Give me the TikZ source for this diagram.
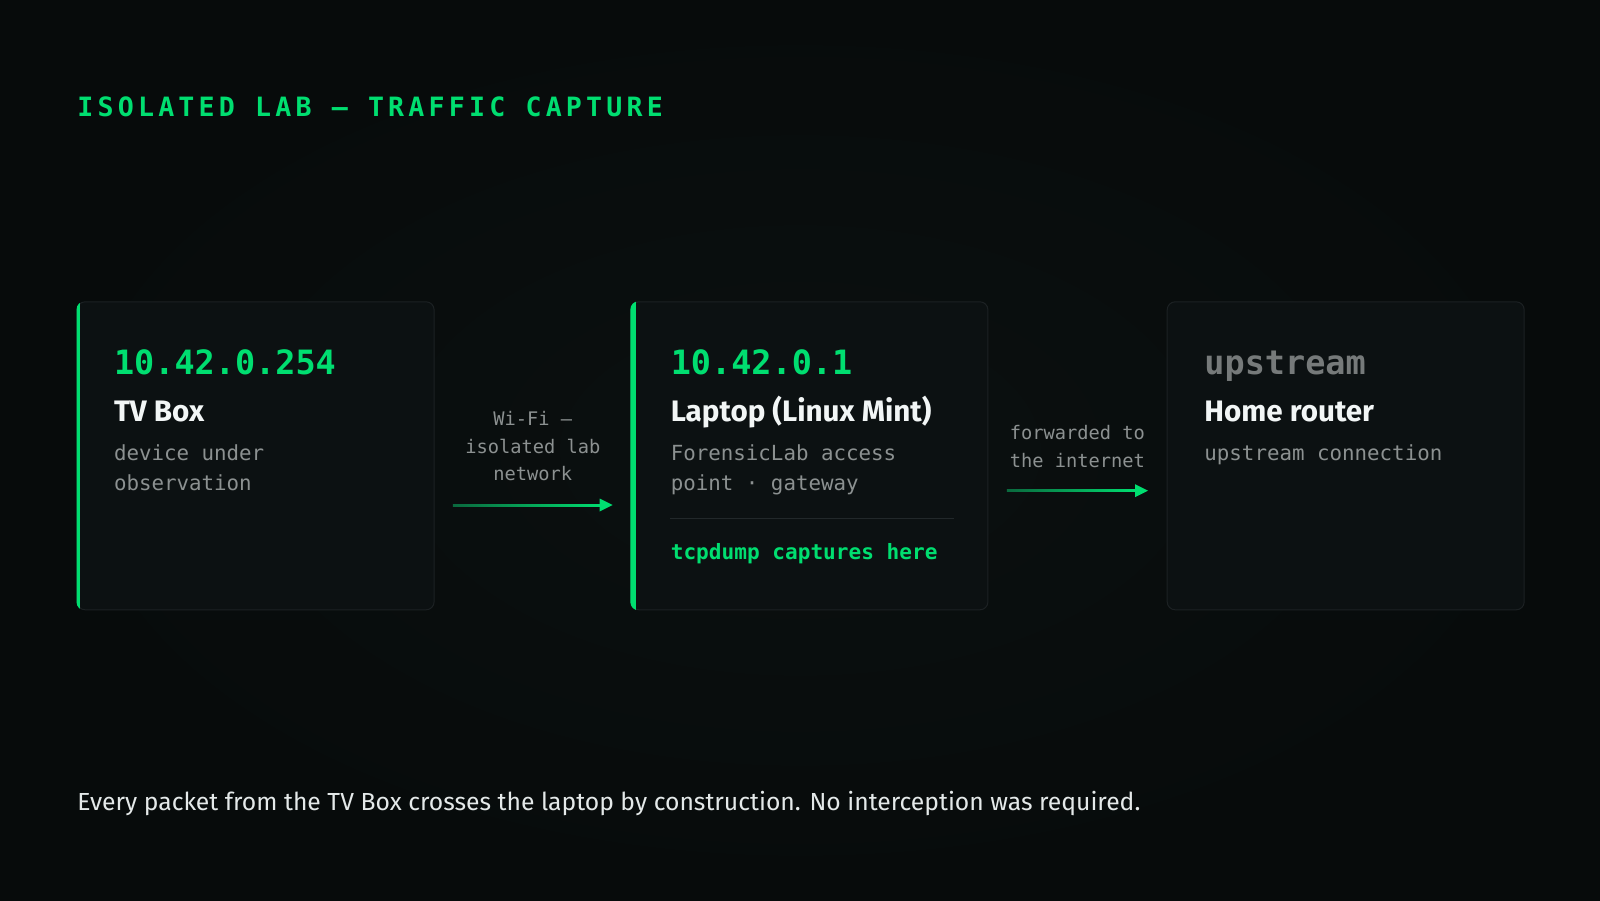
\documentclass[tikz,border=0pt]{standalone}
\usepackage{fontspec}
\setmainfont{Fira Sans}
\newfontfamily\monof{DejaVu Sans Mono}
\newfontfamily\titlef[LetterSpace=15.8]{DejaVu Sans Mono}
\usetikzlibrary{calc}
\definecolor{bgc}{RGB}{7,11,11}
\definecolor{bgl}{RGB}{11,16,16}
\definecolor{boxc}{RGB}{12,17,18}
\definecolor{bordc}{RGB}{28,33,35}
\definecolor{grn}{RGB}{0,222,112}
\definecolor{grnd}{RGB}{10,105,62}
\definecolor{txtg}{RGB}{140,145,145}
\definecolor{upg}{RGB}{118,122,122}
\definecolor{wht}{RGB}{242,246,246}
\definecolor{footc}{RGB}{228,233,233}
\definecolor{sepc}{RGB}{34,40,42}
\tikzset{
  card/.style={draw=bordc, line width=0.5pt, fill=boxc, rounded corners=4pt,
    minimum width=178.5pt, minimum height=154pt, inner sep=0pt, anchor=north west},
  txt/.style={inner sep=0pt, anchor=base west},
  iptxt/.style={txt, text=grn, font=\monof\bfseries\fontsize{16.75pt}{20pt}\selectfont},
  uptxt/.style={txt, text=upg, font=\monof\bfseries\fontsize{16.75pt}{20pt}\selectfont},
  headtxt/.style={txt, text=wht, font=\bfseries\fontsize{14.8pt}{18pt}\selectfont},
  desctxt/.style={txt, text=txtg, font=\monof\fontsize{10.4pt}{12pt}\selectfont},
  captxt/.style={txt, text=grn, font=\monof\bfseries\fontsize{10.55pt}{12pt}\selectfont},
  lbltxt/.style={inner sep=0pt, anchor=base, text=txtg, font=\monof\fontsize{9.35pt}{11pt}\selectfont},
}
\begin{document}
\begin{tikzpicture}[x=0.5pt,y=-0.5pt]
\useasboundingbox (0,0) rectangle (1600,900);
\shade[inner color=bgl, outer color=bgc] (0,0) rectangle (1600,900);

% title
\node[txt, text=grn, font=\titlef\bfseries\fontsize{13.3pt}{16pt}\selectfont] (title) at (77,116) {ISOLATED LAB — TRAFFIC CAPTURE};

% cards
\node[card] (b1) at (76.6,301.3) {};
\node[card] (b2) at (630.4,301.3) {};
\node[card] (b3) at (1166.7,301.3) {};

% accents
\begin{scope}
  \clip[rounded corners=4pt] (b1.north west) rectangle (b1.south east);
  \fill[grn] ($(b1.north west)+(-1,-1)$) rectangle ($(b1.south west)+(3,1)$);
\end{scope}
\begin{scope}
  \clip[rounded corners=4pt] (b2.north west) rectangle (b2.south east);
  \fill[grn] ($(b2.north west)+(-1,-1)$) rectangle ($(b2.south west)+(5.5,1)$);
\end{scope}

% card 1
\node[iptxt] (ip1) at ($(b1.north west)+(37,73)$) {10.42.0.254};
\node[headtxt] (h1) at ($(b1.north west)+(37,120.4)$) {TV Box};
\node[desctxt] (d1a) at ($(b1.north west)+(37,158.7)$) {device under};
\node[desctxt] (d1b) at ($(b1.north west)+(37,189.6)$) {observation};

% card 2
\node[iptxt] (ip2) at ($(b2.north west)+(40,73)$) {10.42.0.1};
\node[headtxt] (h2) at ($(b2.north west)+(40,120.4)$) {Laptop (Linux Mint)};
\node[desctxt] (d2a) at ($(b2.north west)+(40,158.7)$) {ForensicLab access};
\node[desctxt] (d2b) at ($(b2.north west)+(40,189.6)$) {point · gateway};
\coordinate (s1) at ($(b2.north west)+(39.6,217)$);
\coordinate (s2) at ($(b2.north east)+(-34.5,217)$);
\draw[sepc, line width=0.5pt] (s1) -- (s2);
\node[captxt] (cap) at ($(b2.north west)+(40,258)$) {tcpdump captures here};

% card 3
\node[uptxt] (ip3) at ($(b3.north west)+(37.3,73)$) {upstream};
\node[headtxt] (h3) at ($(b3.north west)+(37.3,120.4)$) {Home router};
\node[desctxt] (d3a) at ($(b3.north west)+(37.3,158.7)$) {upstream connection};

% arrow 1
\coordinate (a1s) at ($(b1.north east)+(18.3,203.7)$);
\coordinate (a1e) at ($(b2.north west)+(-17.7,203.7)$);
\shade[left color=grnd, right color=grn] ($(a1s)+(0,-1)$) rectangle ($(a1e)+(-12,1)$);
\fill[grn] (a1e) -- ++(-13,-6.5) -- ++(0,13) -- cycle;
\coordinate (a1m) at ($(a1s)!0.5!(a1e)$);
\node[lbltxt] (l1a) at ($(a1m)+(0,-80)$) {Wi-Fi —};
\node[lbltxt] (l1b) at ($(a1m)+(0,-51.7)$) {isolated lab};
\node[lbltxt] (l1c) at ($(a1m)+(0,-25)$) {network};

% arrow 2
\coordinate (a2s) at ($(b2.north east)+(18.5,189.4)$);
\coordinate (a2e) at ($(b3.north west)+(-18.7,189.4)$);
\shade[left color=grnd, right color=grn] ($(a2s)+(0,-1)$) rectangle ($(a2e)+(-12,1)$);
\fill[grn] (a2e) -- ++(-13,-6.5) -- ++(0,13) -- cycle;
\coordinate (a2m) at ($(a2s)!0.5!(a2e)$);
\node[lbltxt] (l2a) at ($(a2m)+(0,-51.4)$) {forwarded to};
\node[lbltxt] (l2b) at ($(a2m)+(0,-23.4)$) {the internet};

% footer
\node[txt, text=footc, font=\fontsize{12.35pt}{14pt}\selectfont] (foot) at (77,810.7) {Every packet from the TV Box crosses the laptop by construction. No interception was required.};
\end{tikzpicture}
\end{document}
